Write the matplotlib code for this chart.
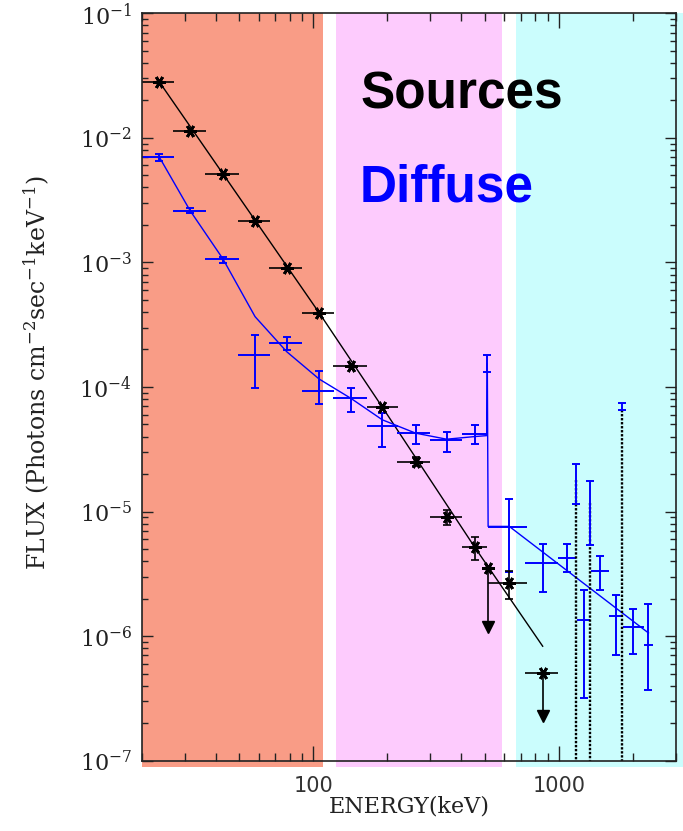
import numpy as np
import matplotlib
matplotlib.use("Agg")
import matplotlib.pyplot as plt
from matplotlib.ticker import FixedLocator, FixedFormatter, NullFormatter

# ---------------- data ----------------
# shaded energy bands (keV)
band_lo = [20, 124, 668]
band_hi = [109, 586, 3300]
band_colors = ["#F99C86", "#FDCBFD", "#CBFDFD"]

# Sources (black) measured points
src_x = [23.6, 31.5, 42.8, 57.9, 77.9, 105.5, 142.3, 191, 261, 349, 454, 628]
src_xlo = [20.0, 26.8, 36.2, 49.2, 66.2, 89.7, 120.6, 165, 220, 298, 404, 513]
src_xhi = [27.0, 36.5, 49.6, 66.7, 90.2, 121.4, 164.9, 222, 298, 404, 508, 740]
src_y = [2.81e-2, 1.143e-2, 5.13e-3, 2.15e-3, 8.98e-4, 3.95e-4, 1.486e-4,
         6.89e-5, 2.49e-5, 9.02e-6, 5.18e-6, 2.69e-6]
src_ylo = [2.81e-2, 1.143e-2, 5.13e-3, 2.15e-3, 8.98e-4, 3.95e-4, 1.486e-4,
           6.89e-5, 2.32e-5, 7.85e-6, 4.05e-6, 1.98e-6]
src_yhi = [2.81e-2, 1.143e-2, 5.13e-3, 2.15e-3, 8.98e-4, 3.95e-4, 1.486e-4,
           6.89e-5, 2.72e-5, 1.035e-5, 6.3e-6, 3.36e-6]

# Sources upper limits
ul_x = [513, 859]
ul_xlo = [513, 731]
ul_xhi = [513, 993]
ul_y = [3.52e-6, 5.1e-7]
ul_yend = [1.19e-6, 2.27e-7]

# Sources points with errors reaching zero (dotted) + blue caps
zero_x = [1172, 1337, 1811]
zero_top = [1.8e-5, 1.17e-5, 6.5e-5]
seg_hi = [2.40e-5, 1.77e-5, 7.4e-5]
seg_lo = [1.15e-5, 5.37e-6, 6.5e-5]

# Sources model (power law)
src_mod_x = [23.6, 105.5, 191, 454, 859]
src_mod_y = [2.81e-2, 3.95e-4, 6.89e-5, 5.18e-6, 8.3e-7]

# Diffuse (blue) points
dif_x = [23.6, 31.5, 42.8, 57.9, 77.9, 105.5, 142.3, 191, 261, 349, 454, 511,
         628, 859, 1078, 1265, 1468, 1706, 2005, 2317]
dif_xlo = [20.0, 26.8, 36.2, 49.2, 66.2, 89.7, 120.6, 165, 220, 298, 404, 511,
           513, 731, 993, 1180, 1346, 1603, 1822, 2214]
dif_xhi = [27.0, 36.5, 49.6, 66.7, 90.2, 121.4, 164.9, 222, 298, 404, 508, 511,
           740, 993, 1172, 1337, 1603, 1822, 2214, 2418]
dif_y = [7.06e-3, 2.61e-3, 1.066e-3, 1.80e-4, 2.25e-4, 9.35e-5, 8.13e-5, 4.87e-5,
         4.26e-5, 3.72e-5, 4.18e-5, 1.5e-4, 7.58e-6, 3.9e-6, 4.23e-6, 1.35e-6,
         3.34e-6, 1.44e-6, 1.19e-6, 8.5e-7]
dif_ylo = [6.56e-3, 2.48e-3, 9.86e-4, 9.77e-5, 1.99e-4, 7.3e-5, 6.35e-5, 3.27e-5,
           3.5e-5, 3.0e-5, 3.5e-5, 1.31e-4, 3.3e-6, 2.25e-6, 3.3e-6, 3.2e-7,
           2.36e-6, 7.1e-7, 7.2e-7, 3.7e-7]
dif_yhi = [7.38e-3, 2.72e-3, 1.11e-3, 2.62e-4, 2.54e-4, 1.35e-4, 9.9e-5, 6.18e-5,
           4.98e-5, 4.38e-5, 4.98e-5, 1.8e-4, 1.26e-5, 5.5e-6, 5.5e-6, 2.35e-6,
           4.4e-6, 2.15e-6, 1.66e-6, 1.8e-6]

# Diffuse model
dif_mod_x = [23.6, 31.5, 42.8, 57.9, 77.9, 105.5, 142.3, 191, 261, 349, 454,
             508, 511, 515, 628, 2317]
dif_mod_y = [7.0e-3, 2.6e-3, 1.07e-3, 3.67e-4, 1.92e-4, 1.16e-4, 8.1e-5, 5.45e-5,
             4.26e-5, 3.81e-5, 4.0e-5, 4.07e-5, 1.55e-4, 7.6e-6, 7.6e-6, 1.06e-6]

x_major = [100, 1000]
x_major_labels = ["100", "1000"]
y_major = [1e-7, 1e-6, 1e-5, 1e-4, 1e-3, 1e-2, 1e-1]
y_major_labels = ["$10^{-7}$", "$10^{-6}$", "$10^{-5}$", "$10^{-4}$",
                  "$10^{-3}$", "$10^{-2}$", "$10^{-1}$"]

# ---------------- plot ----------------
plt.rcParams["mathtext.fontset"] = "dejavuserif"
BLUE = "#0000FF"

fig = plt.figure(figsize=(6.83, 8.31), dpi=100)
ax = fig.add_axes([0.2075, 0.0846, 0.7823, 0.8994])
ax.set_xscale("log")
ax.set_yscale("log")
ax.set_xlim(20, 3000)
ax.set_ylim(1e-7, 1e-1)

for lo, hi, c in zip(band_lo, band_hi, band_colors):
    ax.axvspan(lo, hi, ymin=-0.008, ymax=1.0, color=c, lw=0, zorder=0,
               clip_on=False)

# models
ax.plot(src_mod_x, src_mod_y, color="black", lw=1.0, zorder=3)
ax.plot(dif_mod_x, dif_mod_y, color=BLUE, lw=1.0, zorder=3)

# diffuse points
dx = np.array(dif_x); dy = np.array(dif_y)
ax.errorbar(dx, dy, xerr=[dx - np.array(dif_xlo), np.array(dif_xhi) - dx],
            fmt="none", ecolor=BLUE, elinewidth=1.4, capsize=0, zorder=4)
ax.errorbar(dx, dy, yerr=[dy - np.array(dif_ylo), np.array(dif_yhi) - dy],
            fmt="none", ecolor=BLUE, elinewidth=1.4, capsize=2.6,
            capthick=1.4, zorder=4)

# dotted zero-reaching errors
for x, top in zip(zero_x, zero_top):
    ax.plot([x, x], [top, 1e-7], color="black", lw=1.7,
            linestyle=(0, (1.0, 0.7)), zorder=4)
zx = np.array(zero_x)
ax.errorbar(zx, np.array(seg_hi), yerr=[np.array(seg_hi) - np.array(seg_lo),
                                         np.zeros(len(zx))],
            fmt="none", ecolor=BLUE, elinewidth=1.4, capsize=2.6,
            capthick=1.4, zorder=4)

# sources points
sx = np.array(src_x); sy = np.array(src_y)
ax.errorbar(sx, sy, xerr=[sx - np.array(src_xlo), np.array(src_xhi) - sx],
            fmt="none", ecolor="black", elinewidth=1.2, capsize=0, zorder=5)
ax.errorbar(sx, sy, yerr=[sy - np.array(src_ylo), np.array(src_yhi) - sy],
            fmt="none", ecolor="black", elinewidth=1.2, capsize=2.6,
            capthick=1.2, zorder=5)
ax.plot(sx, sy, linestyle="none", marker=(6, 2, 90), markersize=9,
        mew=2.0, color="black", zorder=6)

# upper limits
ux = np.array(ul_x); uy = np.array(ul_y)
ax.errorbar(ux, uy, xerr=[ux - np.array(ul_xlo), np.array(ul_xhi) - ux],
            fmt="none", ecolor="black", elinewidth=1.2, capsize=0, zorder=5)
for x, y0, y1 in zip(ul_x, ul_y, ul_yend):
    ax.plot([x, x], [y0, y1], color="black", lw=1.2, zorder=5)
ax.plot(ux, ul_yend, linestyle="none", marker="v", markersize=9,
        color="black", zorder=6)
ax.plot(ux, uy, linestyle="none", marker=(6, 2, 90), markersize=9,
        mew=2.0, color="black", zorder=6)

# text
ax.text(0.4086, 0.873, "Sources", transform=ax.transAxes, fontsize=37,
        fontweight="bold", family="Liberation Sans", color="black",
        va="baseline", ha="left", zorder=7)
ax.text(0.4086, 0.748, "Diffuse", transform=ax.transAxes, fontsize=37,
        fontweight="bold", family="Liberation Sans", color=BLUE,
        va="baseline", ha="left", zorder=7)

# ticks
ax.xaxis.set_major_locator(FixedLocator(x_major))
ax.xaxis.set_major_formatter(FixedFormatter(x_major_labels))
xminor = [m * 10 ** e for e in (1, 2, 3) for m in range(2, 10)]
ax.xaxis.set_minor_locator(FixedLocator(xminor))
ax.xaxis.set_minor_formatter(NullFormatter())
ax.yaxis.set_major_locator(FixedLocator(y_major))
ax.yaxis.set_major_formatter(FixedFormatter(y_major_labels))
yminor = [m * 10.0 ** e for e in range(-7, -1) for m in range(2, 10)]
ax.yaxis.set_minor_locator(FixedLocator(yminor))
ax.yaxis.set_minor_formatter(NullFormatter())

ax.tick_params(which="both", direction="in", top=True, right=True,
               color="#222222")
ax.tick_params(axis="x", which="major", length=11, width=1.0, pad=11,
               labelsize=15)
ax.tick_params(axis="x", which="minor", length=6, width=1.0)
ax.tick_params(axis="y", which="major", length=8, width=1.0, pad=7,
               labelsize=16)
ax.tick_params(axis="y", which="minor", length=4, width=1.0)
for lab in ax.get_xticklabels():
    lab.set_family("DejaVu Sans")
    lab.set_color("#333333")
for lab in ax.get_yticklabels():
    lab.set_color("#222222")
for sp in ax.spines.values():
    sp.set_linewidth(1.2)
    sp.set_color("#222222")
    sp.set_zorder(8)

ax.set_xlabel("ENERGY(keV)", family="DejaVu Serif", fontsize=16,
              color="#222222")
ax.xaxis.set_label_coords(0.5, -0.046)
ax.set_ylabel("FLUX (Photons cm$^{-2}$sec$^{-1}$keV$^{-1}$)",
              family="DejaVu Serif", fontsize=17, color="#222222")
ax.yaxis.set_label_coords(-0.168, 0.52)

fig.savefig("out.png", dpi=100)
